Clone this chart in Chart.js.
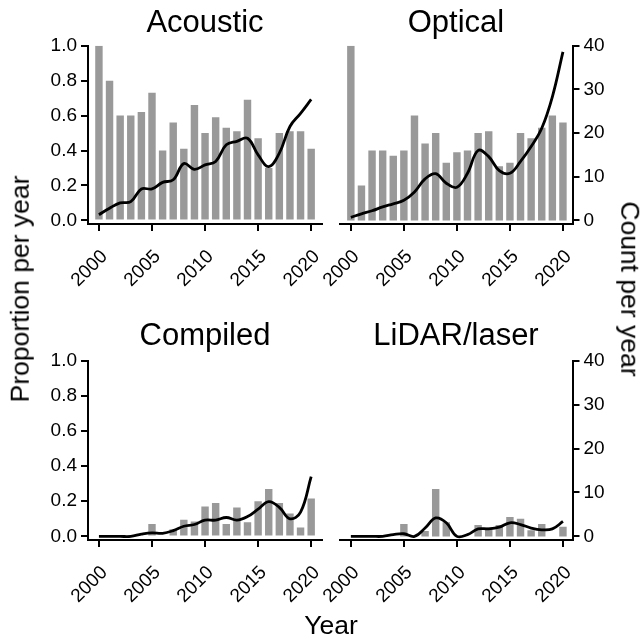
<!DOCTYPE html>
<html>
<head>
<meta charset="utf-8">
<script src="https://cdn.jsdelivr.net/npm/chart.js@4.4.1/dist/chart.umd.min.js"></script>
<style>
  body { margin: 0; background: #fff; width: 642px; height: 639px; position: relative; overflow: hidden;
         font-family: "Liberation Sans", Arial, sans-serif; }
  .panel { position: absolute; }
  .axtitle { position: absolute; font-size: 26.5px; color: #000; white-space: nowrap; line-height: 1; }
</style>
</head>
<body>
<canvas class="panel" id="acoustic" width="330" height="300" style="left:0;top:0"></canvas>
<canvas class="panel" id="optical" width="342" height="300" style="left:300px;top:0"></canvas>
<canvas class="panel" id="compiled" width="330" height="339" style="left:0;top:300px"></canvas>
<canvas class="panel" id="lidar" width="342" height="339" style="left:300px;top:300px"></canvas>

<div class="axtitle" style="left:19.5px;top:289px;transform:translate(-50%,-50%) rotate(-90deg)">Proportion per year</div>
<div class="axtitle" style="left:630px;top:289px;transform:translate(-50%,-50%) rotate(90deg)">Count per year</div>
<div class="axtitle" style="left:331px;top:625px;transform:translate(-50%,-50%)">Year</div>

<script>
const years = [2000, 2001, 2002, 2003, 2004, 2005, 2006, 2007, 2008, 2009, 2010,
               2011, 2012, 2013, 2014, 2015, 2016, 2017, 2018, 2019, 2020];

// proportion per year (bars) and smoothed count per year (line)
const acousticProp  = [1.0, 0.80, 0.60, 0.60, 0.62, 0.73, 0.40, 0.56, 0.41, 0.66, 0.50,
                       0.59, 0.53, 0.51, 0.69, 0.47, 0.30, 0.50, 0.51, 0.51, 0.41];
const acousticCount = [1.3, 2.8, 4.0, 4.3, 7.2, 7.2, 8.7, 9.3, 13.0, 11.7, 12.7,
                       13.5, 17.3, 18.1, 18.8, 15.0, 12.3, 15.4, 21.5, 24.5, 27.7];

const opticalProp  = [1.0, 0.20, 0.40, 0.40, 0.37, 0.40, 0.60, 0.44, 0.50, 0.33, 0.39,
                      0.40, 0.50, 0.51, 0.31, 0.33, 0.50, 0.47, 0.53, 0.60, 0.56];
const opticalCount = [0.7, 1.5, 2.2, 3.1, 3.8, 4.6, 6.5, 9.5, 10.7, 8.5, 7.6,
                      10.8, 16.0, 14.6, 11.4, 10.8, 13.5, 16.9, 21.1, 28.3, 38.6];

const compiledProp  = [0, 0, 0, 0, 0, 0.07, 0, 0.04, 0.095, 0.085, 0.17,
                       0.19, 0.07, 0.165, 0.08, 0.20, 0.27, 0.19, 0.13, 0.05, 0.215];
const compiledCount = [0, 0, 0, 0, 0.5, 0.8, 0.7, 1.3, 2.3, 2.7, 3.7,
                       3.7, 4.3, 3.7, 4.5, 6.2, 7.9, 6.6, 4.0, 5.5, 13.6];

const lidarProp  = [0, 0, 0, 0, 0, 0.07, 0, 0.03, 0.27, 0.08, 0,
                    0, 0.065, 0.05, 0.065, 0.11, 0.10, 0.035, 0.07, 0, 0.055];
const lidarCount = [0, 0, 0, 0, 0.4, 0.6, 0, 1.9, 4.2, 3.1, 0,
                    0.4, 1.7, 1.7, 2.1, 3.1, 2.7, 1.9, 1.5, 1.7, 3.4];

const propTicks = [0, 0.2, 0.4, 0.6, 0.8, 1.0];
const countTicks = [0, 10, 20, 30, 40];
const yearTicks = [2000, 2005, 2010, 2015, 2020];

const FONT = '"Liberation Sans", Arial, sans-serif';
const axisGrid = { display: true, drawOnChartArea: false, drawTicks: true, tickLength: 7,
                   color: '#000', lineWidth: 2, offset: false };
const axisBorder = { display: true, color: '#000', width: 2 };

function makePanel(id, title, prop, count, side, lay) {
  const pts = (arr) => years.map((y, i) => ({ x: y, y: arr[i] }));
  new Chart(document.getElementById(id), {
    data: {
      datasets: [
        { type: 'line', data: pts(count), yAxisID: 'y2', borderColor: '#000', borderWidth: 2.8,
          pointRadius: 0, tension: 0.4, fill: false, order: 1 },
        { type: 'bar', data: pts(prop), yAxisID: 'y', backgroundColor: '#999999',
          categoryPercentage: 1, barPercentage: 0.7, order: 2 }
      ]
    },
    options: {
      responsive: false,
      animation: false,
      devicePixelRatio: 1,
      layout: { padding: { left: lay.padLeft, right: lay.padRight, top: 0, bottom: 0 } },
      plugins: {
        legend: { display: false },
        tooltip: { enabled: false },
        title: { display: true, text: title, fullSize: false, color: '#000',
                 font: { family: FONT, size: 31, weight: 'normal' },
                 padding: { top: lay.titleTop, bottom: lay.titleBottom } }
      },
      scales: {
        x: {
          type: 'linear', position: 'bottom', min: lay.xmin, max: lay.xmax, offset: false,
          afterBuildTicks: (ax) => { ax.ticks = yearTicks.map(v => ({ value: v })); },
          afterFit: (ax) => { ax.height = lay.xHeight; ax.paddingLeft = 0; ax.paddingRight = 0; },
          ticks: { autoSkip: false, minRotation: 45, maxRotation: 45, color: '#000',
                   padding: 14.5, labelOffset: 5.5,
                   font: { family: FONT, size: 19 }, callback: (v) => String(v) },
          grid: axisGrid, border: axisBorder
        },
        y: {
          type: 'linear', position: 'left', min: -0.0206, max: 1.0, display: side === 'left',
          afterBuildTicks: (ax) => { ax.ticks = propTicks.map(v => ({ value: v })); },
          afterFit: (ax) => { ax.width = side === 'left' ? lay.yWidth : 0; ax.paddingTop = 0; ax.paddingBottom = 0; },
          ticks: { color: '#000', padding: 4, font: { family: FONT, size: 19 },
                   callback: (v) => v.toFixed(1) },
          grid: axisGrid, border: axisBorder
        },
        y2: {
          type: 'linear', position: 'right', min: -0.824, max: 40, display: side === 'right',
          afterBuildTicks: (ax) => { ax.ticks = countTicks.map(v => ({ value: v })); },
          afterFit: (ax) => { ax.width = side === 'right' ? lay.yWidth : 0; ax.paddingTop = 0; ax.paddingBottom = 0; },
          ticks: { color: '#000', padding: 4, font: { family: FONT, size: 19 },
                   callback: (v) => String(v) },
          grid: axisGrid, border: axisBorder
        }
      }
    }
  });
}

const leftLay = { padLeft: 0, padRight: 8, yWidth: 88, xmin: 1998.97, xmax: 2021.02 };
const rightLay = { padLeft: 39.5, padRight: 0, yWidth: 69.5, xmin: 1998.93, xmax: 2020.9 };
const topRow = { titleTop: 4.7, titleBottom: 3.8, xHeight: 76 };
const bottomRow = { titleTop: 17.4, titleBottom: 6.1, xHeight: 99 };

makePanel('acoustic', 'Acoustic', acousticProp, acousticCount, 'left', Object.assign({}, topRow, leftLay));
makePanel('optical', 'Optical', opticalProp, opticalCount, 'right', Object.assign({}, topRow, rightLay));
makePanel('compiled', 'Compiled', compiledProp, compiledCount, 'left', Object.assign({}, bottomRow, leftLay));
makePanel('lidar', 'LiDAR/laser', lidarProp, lidarCount, 'right', Object.assign({}, bottomRow, rightLay));
</script>
</body>
</html>
